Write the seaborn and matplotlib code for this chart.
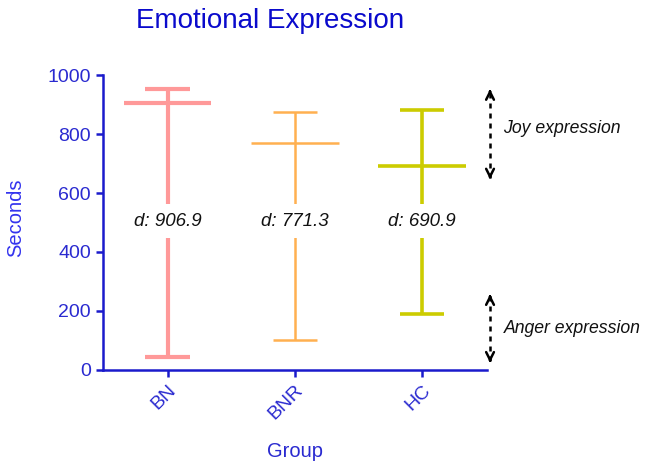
import pandas as pd
import seaborn as sns
import matplotlib.pyplot as plt

# values
groups = ["BN", "BNR", "HC"]
means = [906.9, 771.3, 690.9]
highs = [952, 874, 881]
lows = [44, 101, 190]
labels = ["d: 906.9", "d: 771.3", "d: 690.9"]

df = pd.DataFrame({"Group": groups, "mean": means, "high": highs, "low": lows, "label": labels})

colors = ["#ff9999", "#ffb050", "#cccc00"]
widths = [3.0, 1.8, 2.6]
blue = "#1a1acc"

sns.set_style("ticks")
plt.rcParams["font.family"] = ["Liberation Sans", "DejaVu Sans"]

fig = plt.figure(figsize=(6.5, 4.67), dpi=100)
ax = fig.add_axes([0.158, 0.208, 0.591, 0.631])

for i, row in df.iterrows():
    c, lw = colors[i], widths[i]
    ax.vlines(i, row["low"], row["high"], color=c, lw=lw)
    ax.hlines([row["low"], row["high"]], i - 0.175, i + 0.175, color=c, lw=lw)
    ax.hlines(row["mean"], i - 0.345, i + 0.345, color=c, lw=lw)
    ax.text(i, 505, row["label"], ha="center", va="center", fontsize=13.5, style="italic",
            color="#111111", bbox=dict(fc="white", ec="none", pad=6))

ax.set_xlim(-0.51, 2.51)
ax.set_ylim(0, 1000)
ax.set_xticks(range(len(groups)))
ax.set_xticklabels(groups, rotation=45, ha="right", rotation_mode="anchor")
ax.set_yticks([0, 200, 400, 600, 800, 1000])

sns.despine(ax=ax)
for s in ["left", "bottom"]:
    ax.spines[s].set_color(blue)
    ax.spines[s].set_linewidth(1.8)
ax.tick_params(colors=blue, labelcolor="#2a2ad0", labelsize=14, width=1.8, length=5)
ax.set_ylabel("Seconds", color="#3333ee", fontsize=14.5)
ax.yaxis.set_label_coords(-0.203, 0.515)
ax.set_xlabel("Group", color="#2a2ad0", fontsize=14.5)
ax.xaxis.set_label_coords(0.5, -0.245)

# dashed double arrows on the right
arrows = [(962, 637, 820, "Joy expression"), (266, 15, 142, "Anger expression")]
ax_x = 2.535
for top, bot, ty, txt in arrows:
    ax.plot([ax_x, ax_x], [bot + 15, top - 15], color="black", lw=1.8, ls=(0, (2, 2)), clip_on=False)
    ax.annotate("", xy=(ax_x, top), xytext=(ax_x, top - 30), annotation_clip=False,
                arrowprops=dict(arrowstyle="->", lw=1.8, color="black", mutation_scale=14))
    ax.annotate("", xy=(ax_x, bot), xytext=(ax_x, bot + 30), annotation_clip=False,
                arrowprops=dict(arrowstyle="->", lw=1.8, color="black", mutation_scale=14))
    ax.text(2.64, ty, txt, ha="left", va="center", fontsize=12.7, style="italic", color="#111111")

fig.text(270 / 650, 1 - 21 / 467, "Emotional Expression", ha="center", va="center",
         fontsize=20, color="#0a0acc")

fig.savefig("out.png", dpi=100)
